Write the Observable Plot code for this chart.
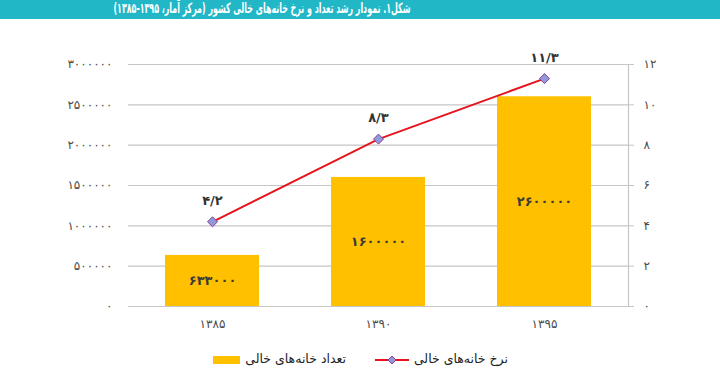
<!DOCTYPE html>
<html><head><meta charset="utf-8">
<script src="https://cdn.jsdelivr.net/npm/d3@7"></script>
<script src="https://cdn.jsdelivr.net/npm/@observablehq/plot@0.6"></script>
<style>
body{margin:0;background:#fff;width:720px;height:377px;overflow:hidden;position:relative;font-family:"DejaVu Sans",sans-serif;}
#title{height:19px;background:#22b7c7;position:relative;}
#title span{position:absolute;right:310px;top:0px;color:#fff;font:bold 14px "DejaVu Sans";direction:rtl;white-space:nowrap;transform-origin:right center;}
#chart{position:absolute;top:19px;left:0;}
#legend{position:absolute;top:350px;left:0;width:720px;height:22px;font:12.5px "DejaVu Sans";color:#222;}
#legend .t{position:absolute;top:1px;direction:rtl;white-space:nowrap;}
#legend .sw{position:absolute;}
</style></head><body>
<div id="title"><span></span></div>
<div id="chart"></div>
<div id="legend"></div>
<script>
const titleText = "شکل۱. نمودار رشد تعداد و نرخ خانه‌های خالی کشور (مرکز آمار، ۱۳۹۵-۱۳۸۵)";
const years = ["۱۳۸۵", "۱۳۹۰", "۱۳۹۵"];
const vacantCount = [633000, 1600000, 2600000];
const vacantRate = [4.2, 8.3, 11.3];
const leftTicks = [0, 500000, 1000000, 1500000, 2000000, 2500000, 3000000];
const rightTicks = [0, 2, 4, 6, 8, 10, 12];
const legendLabels = ["تعداد خانه‌های خالی", "نرخ خانه‌های خالی"];

const faDigits = "۰۱۲۳۴۵۶۷۸۹";
const fa = n => String(n).replace(/\d/g, d => faDigits[+d]).replace(".", "/");
const ratio = leftTicks[leftTicks.length - 1] / rightTicks[rightTicks.length - 1];
const data = years.map((y, i) => ({year: y, count: vacantCount[i], rate: vacantRate[i], rateY: vacantRate[i] * ratio}));

const titleSpan = document.querySelector("#title span");
titleSpan.textContent = titleText;
const tw = titleSpan.getBoundingClientRect().width;
if (tw > 297) titleSpan.style.transform = `scaleX(${297 / tw})`;

const gridColor = "#c6c6c6";
const chart = Plot.plot({
  width: 720, height: 320,
  marginTop: 45, marginBottom: 33, marginLeft: 128, marginRight: 92,
  style: {fontFamily: "DejaVu Sans", fontSize: "12px", color: "#4a4a4a", background: "transparent"},
  x: {domain: years, paddingInner: 0.436, paddingOuter: 0.218, label: null},
  y: {domain: [0, leftTicks[leftTicks.length - 1]], label: null},
  marks: [
    Plot.gridY(leftTicks, {stroke: gridColor, strokeOpacity: 1, strokeWidth: 1.2}),
    Plot.axisY(leftTicks, {anchor: "left", tickSize: 0, tickPadding: 16, tickFormat: fa, label: null}),
    Plot.axisY(rightTicks.map(t => t * ratio), {anchor: "right", tickSize: 5, tickPadding: 10, tickFormat: v => fa(Math.round(v / ratio)), stroke: gridColor, strokeOpacity: 1, label: null}),
    Plot.frame({anchor: "right", stroke: gridColor, strokeWidth: 1.2}),
    Plot.barY(data, {x: "year", y: "count", fill: "#ffc000"}),
    Plot.ruleY([0], {stroke: gridColor, strokeWidth: 1.2}),
    Plot.text(data, {x: "year", y: d => d.count / 2, text: d => fa(d.count), fontWeight: "bold", fontSize: 13, fill: "#3a3a3a"}),
    Plot.line(data, {x: "year", y: "rateY", stroke: "#e5141e", strokeWidth: 2}),
    Plot.dot(data, {x: "year", y: "rateY", symbol: "diamond2", r: 4.5, fill: "#8f9bd8", stroke: "#8b3c9c", strokeWidth: 1}),
    Plot.text(data, {x: "year", y: "rateY", text: d => fa(d.rate), dy: -21, fontWeight: "bold", fontSize: 13, fill: "#333"}),
    Plot.axisX({anchor: "bottom", tickSize: 0, tickPadding: 13, label: null})
  ]
});
document.getElementById("chart").appendChild(chart);

const lg = document.getElementById("legend");
lg.innerHTML = `
  <div class="sw" style="left:213px;top:6px;width:27px;height:8px;background:#ffc000"></div>
  <span class="t" style="right:${720-346}px">${legendLabels[0]}</span>
  <svg class="sw" style="left:375px;top:4px" width="34" height="12">
    <line x1="0" y1="6" x2="34" y2="6" stroke="#e5141e" stroke-width="2"/>
    <path d="M17,2 L21,6 L17,10 L13,6 Z" fill="#8f9bd8" stroke="#8b3c9c" stroke-width="1"/>
  </svg>
  <span class="t" style="right:${720-508}px">${legendLabels[1]}</span>`;
</script>
</body></html>
